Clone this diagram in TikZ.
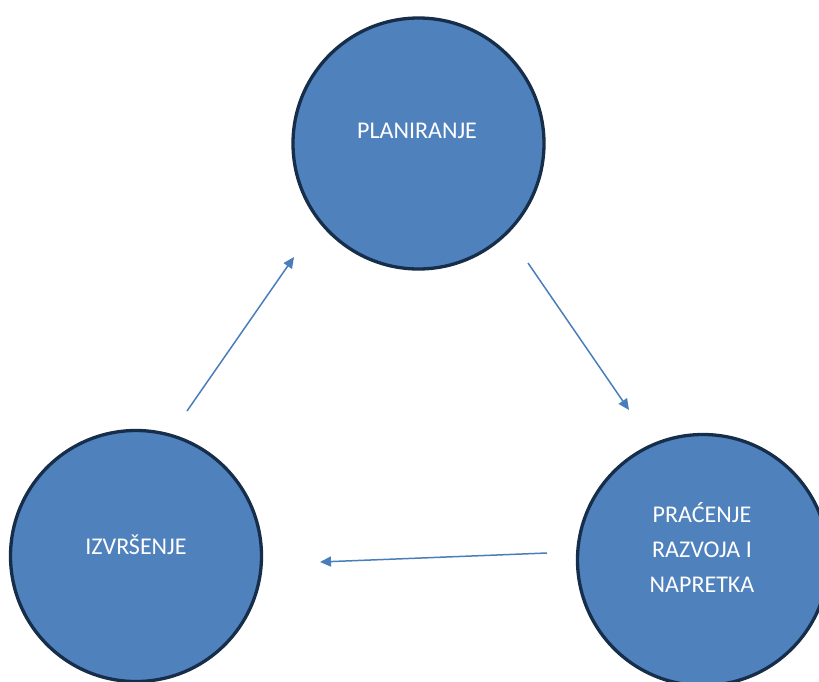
\documentclass[tikz,border=0pt]{standalone}
\usepackage{fontspec}
\setmainfont{Carlito}
\usetikzlibrary{arrows.meta}
\definecolor{cfill}{HTML}{4F81BD}
\definecolor{cline}{HTML}{172E4B}
\definecolor{carrow}{HTML}{4A7EBB}
\tikzset{
  phase/.style={circle,draw=cline,fill=cfill,line width=3.3pt,minimum size=251pt,inner sep=0pt},
  phasetext/.style={text=white,font=\fontsize{24}{35}\selectfont,align=center,inner sep=0pt},
  flow/.style={draw=carrow,line width=1.5pt,-{Triangle[length=11pt,width=10pt]}}
}
\begin{document}
\begin{tikzpicture}[x=1pt,y=-1pt]
\useasboundingbox (0,0) rectangle (819,681);
\clip (0,0) rectangle (819,681);
\node[phase] (plan) at (418.5,143.5) {};
\node[phase] (izv) at (136,556) {};
\node[phase] (prac) at (703,560) {};
\node[phasetext] (tplan) at (417,131) {PLANIRANJE};
\node[phasetext] (tizv) at (136,545) {IZVRŠENJE};
\node[phasetext] (tprac) at (702,547) {PRAĆENJE\\RAZVOJA I\\NAPRETKA};
\coordinate (a1s) at (187,411);
\coordinate (a1e) at (294,257);
\coordinate (a2s) at (528,263);
\coordinate (a2e) at (629,410);
\coordinate (a3s) at (547,553);
\coordinate (a3e) at (320,562);
\draw[flow] (a1s) -- (a1e);
\draw[flow] (a2s) -- (a2e);
\draw[flow] (a3s) -- (a3e);
\end{tikzpicture}
\end{document}
